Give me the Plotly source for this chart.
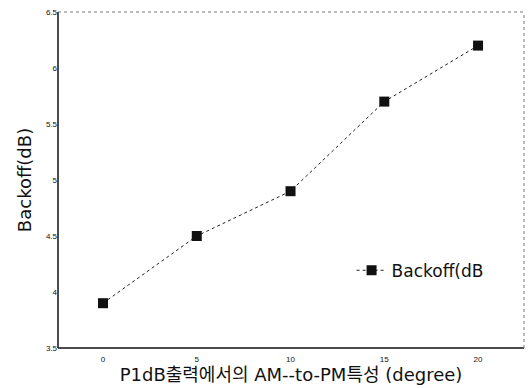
import plotly.graph_objects as go

x_vals = [0, 5, 10, 15, 20]
backoff = [3.9, 4.5, 4.9, 5.7, 6.2]
x_ticks = [0, 5, 10, 15, 20]
y_ticks = [3.5, 4, 4.5, 5, 5.5, 6, 6.5]
y_tick_text = ["3.5", "4", "4.5", "5", "5.5", "6", "6.5"]

font_fam = "DejaVu Sans, Noto Sans CJK KR"
tick_fam = "Liberation Sans, Arial"

fig = go.Figure()
fig.add_trace(go.Scatter(
    x=x_vals, y=backoff, mode="lines+markers", name="Backoff(dB",
    line=dict(color="#222", width=1, dash="dot"),
    marker=dict(symbol="square", size=10, color="#111"),
))

fig.update_layout(
    width=531, height=388,
    margin=dict(l=58, r=7, t=12, b=40),
    paper_bgcolor="white", plot_bgcolor="white",
    font=dict(family=font_fam, color="#111"),
    showlegend=True,
    legend=dict(x=0.63, y=0.23, xanchor="left", yanchor="middle",
                bgcolor="rgba(0,0,0,0)", itemwidth=30,
                font=dict(size=17, family=font_fam)),
    xaxis=dict(range=[-2.4, 22.45], tickvals=x_ticks, ticktext=[str(t) for t in x_ticks],
               showgrid=False, zeroline=False, showline=False,
               ticks="", tickfont=dict(size=8, family=tick_fam), ticklabelstandoff=5,
               title=dict(text="P1dB출력에서의 AM--to-PM특성 (degree)", font=dict(size=18), standoff=0)),
    yaxis=dict(range=[3.5, 6.5], tickvals=y_ticks, ticktext=y_tick_text,
               showgrid=False, zeroline=False, showline=False,
               ticks="", tickfont=dict(size=8, family=tick_fam),
               title=dict(text="Backoff(dB)", font=dict(size=18), standoff=9)),
    shapes=[
        dict(type="line", xref="paper", yref="paper", x0=0, x1=0, y0=0, y1=1,
             line=dict(color="#111", width=1.5)),
        dict(type="line", xref="paper", yref="paper", x0=0, x1=1, y0=0, y1=0,
             line=dict(color="#111", width=1.5)),
        dict(type="line", xref="paper", yref="paper", x0=0, x1=1, y0=1, y1=1,
             line=dict(color="#777", width=1, dash="dot")),
        dict(type="line", xref="paper", yref="paper", x0=1, x1=1, y0=0, y1=1,
             line=dict(color="#777", width=1, dash="dot")),
    ],
)

fig.write_html("out.html")
